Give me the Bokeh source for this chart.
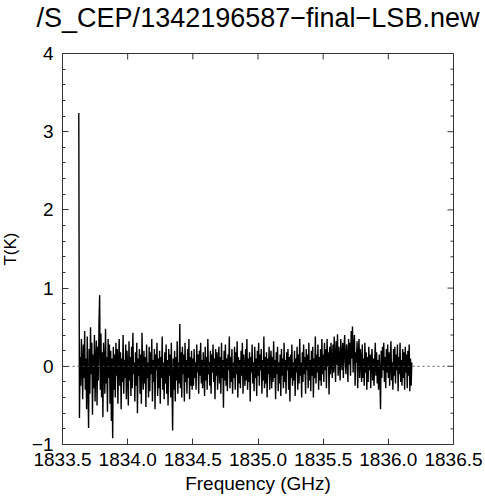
import numpy as np
from bokeh.plotting import figure
from bokeh.models import FixedTicker, Span, Range1d, ColumnDataSource
from bokeh.embed import file_html
from bokeh.resources import INLINE

title_text = "/S_CEP/1342196587\u2212final\u2212LSB.new"
x_label = "Frequency (GHz)"
y_label = "T(K)"

freq_start = 1833.625
freq_end = 1836.18

t_seg_a = [3.24, -0.66, 0.12, -0.25, 0.35, 0.05, -0.42, 0.28, -0.15, 0.45, -0.30, 0.10, -0.55, 0.38, -0.20,
           -0.79, 0.22, -0.35, 0.50, -0.10, 0.30, -0.62, 0.15, -0.28, 0.40, -0.45, 0.08, 0.33, -0.50, 0.25,
           -0.18, 0.55, 0.91, -0.30, 0.42, -0.40, 0.18, -0.65, 0.30, 0.05, -0.35, 0.48, -0.22, 0.12, -0.58,
           0.35, -0.15, 0.28, -0.48, 0.20, -0.70, 0.10, -0.92, 0.25, -0.30]
t_seg_b = [0.15, -0.40, 0.30, -0.12, 0.22, -0.48, 0.05, 0.35, -0.25, 0.18, -0.55, 0.10, -0.20, 0.40, -0.35, 0.08, -0.15, 0.28, -0.42, 0.20,
           -0.05, -0.50, 0.32, -0.18, 0.12, -0.38, 0.25, -0.28, 0.43, -0.10, 0.05, -0.45, 0.18, -0.25, 0.30, -0.60, 0.10, -0.12, 0.22, -0.35,
           0.15, -0.48, 0.43, -0.08, -0.30, 0.20, -0.22, 0.12, -0.52, 0.28, -0.15, 0.05, -0.40, 0.25, -0.32, 0.18, -0.10, 0.35, -0.45, 0.08,
           -0.20, 0.22, -0.55, 0.15, -0.05, 0.30, -0.38, 0.10, -0.28, 0.20, -0.48, 0.12, -0.15, 0.38, -0.30, 0.05, -0.42, 0.18, -0.22, 0.28,
           -0.35, 0.08, -0.50, 0.22, -0.12, 0.15, -0.40, 0.30, -0.25, -0.82, 0.10, -0.30, 0.20, -0.45, 0.12, -0.18, 0.32, -0.35, 0.05, -0.22,
           0.54, -0.28, 0.18, -0.40, 0.25, -0.10, 0.15, -0.45, 0.30, -0.20, 0.08, -0.35, 0.22, -0.15, 0.35, -0.42, 0.12, -0.25, 0.20, -0.30]
t_seg_c = [0.10, -0.25, 0.22, -0.15, 0.05, -0.30, 0.28, -0.08, 0.15, -0.35, 0.20, -0.12, 0.30, -0.22, 0.08, -0.28, 0.18, -0.05, -0.38, 0.25,
           -0.18, 0.12, -0.30, 0.35, -0.10, 0.05, -0.25, 0.20, -0.35, 0.15, -0.08, 0.28, -0.20, 0.10, -0.42, 0.22, -0.12, 0.18, -0.30, 0.05,
           0.25, -0.22, 0.12, -0.35, 0.30, -0.15, 0.08, -0.53, 0.20, -0.18, 0.28, -0.25, 0.10, -0.32, 0.15, -0.05, 0.38, -0.28, 0.12, -0.20,
           0.22, -0.35, 0.05, -0.15, 0.25, -0.30, 0.18, -0.10, 0.32, -0.40, 0.12, -0.22, 0.08, -0.28, 0.20, -0.12, 0.30, -0.35, 0.15, -0.05,
           -0.25, 0.22, -0.18, 0.35, -0.30, 0.10, -0.20, 0.18, -0.45, 0.12, -0.08, 0.28, -0.22, 0.05, -0.32, 0.25, -0.15, 0.10, -0.38, 0.20,
           -0.12, 0.30, -0.25, 0.15, -0.05, 0.22, -0.35, 0.08, -0.18, 0.38, -0.28, 0.12, -0.22, 0.18, -0.40, 0.10, -0.10, 0.25, -0.30, 0.05,
           0.20, -0.28, 0.12, -0.20, 0.32, -0.15, 0.08, -0.42, 0.18, -0.10, 0.25, -0.32, 0.05, -0.22, 0.15, -0.38, 0.22, -0.12, 0.10, -0.28,
           0.30, -0.20, 0.08, -0.35, 0.18, -0.05, 0.22, -0.30, 0.12, -0.45, 0.15, -0.15, 0.28, -0.25, 0.05, -0.18, 0.20, -0.38, 0.10, -0.08,
           0.25, -0.30, 0.15, -0.22, 0.35, -0.12, 0.05, -0.40, 0.18, -0.20, 0.28, -0.10, 0.12, -0.35, 0.22, -0.05, 0.15, -0.28, 0.30, -0.18,
           0.08, -0.32, 0.20, -0.12, 0.25, -0.40, 0.10, -0.15, 0.38, -0.22, 0.15, -0.08, 0.28, -0.30, 0.12, -0.18, 0.22, -0.25, 0.35, -0.10]
t_seg_d = [0.15, -0.20, 0.30, -0.05, 0.22, -0.28, 0.35, 0.00, 0.18, -0.36, 0.25, -0.10, 0.30, 0.05, -0.15, 0.28, -0.08, 0.38, 0.10, -0.20,
           0.32, 0.02, 0.41, -0.12, 0.25, 0.08, -0.18, 0.35, 0.12, -0.05, 0.30, -0.15, 0.22, 0.40, 0.05, -0.10, 0.28, 0.15, -0.20, 0.35,
           0.02, 0.30, -0.12, 0.45, 0.10, 0.51, -0.08, 0.25, 0.40, -0.25, 0.18, 0.05, 0.32, -0.28, 0.15, 0.35, -0.15, 0.22, 0.08, -0.20]
t_seg_e = [0.28, -0.15, 0.10, -0.25, 0.30, -0.08, 0.18, -0.30, 0.12, -0.20, 0.25, -0.05, 0.15, -0.28, 0.08, 0.22, -0.18, 0.10, -0.25, 0.05,
           0.30, -0.12, 0.18, -0.22, 0.08, -0.30, 0.15, -0.10, -0.55, 0.20, -0.15, 0.25, -0.05, 0.30, -0.20, 0.12, -0.28, 0.22, -0.08, 0.28,
           -0.15, 0.18, -0.25, 0.10, 0.32, -0.18, 0.05, -0.30, 0.22, -0.12, 0.25, -0.22, 0.15, -0.05, 0.28, -0.32, 0.12, -0.10, 0.30, -0.20,
           0.08, -0.25, 0.22, -0.15, 0.18, -0.30, 0.25, -0.08, 0.15, -0.28, 0.20, -0.12, 0.28, -0.32, 0.10, -0.25, 0.05]

x_lo, x_hi = 1833.5, 1836.5
y_lo, y_hi = -1, 4
x_ticks = [1833.5, 1834.0, 1834.5, 1835.0, 1835.5, 1836.0, 1836.5]
x_tick_labels = ["1833.5", "1834.0", "1834.5", "1835.0", "1835.5", "1836.0", "1836.5"]
y_ticks = [-1, 0, 1, 2, 3, 4]
y_tick_labels = ["\u22121", "0", "1", "2", "3", "4"]
y_minor = [-0.8, -0.6, -0.4, -0.2, 0.2, 0.4, 0.6, 0.8, 1.2, 1.4, 1.6, 1.8,
           2.2, 2.4, 2.6, 2.8, 3.2, 3.4, 3.6, 3.8]

temps = t_seg_a + t_seg_b + t_seg_c + t_seg_d + t_seg_e
freqs = np.linspace(freq_start, freq_end, len(temps))
src = ColumnDataSource(data=dict(f=freqs, t=temps))

FONT = "Liberation Sans"
AX = "#333333"

p = figure(width=489, height=520, output_backend="svg", toolbar_location=None,
           x_range=Range1d(x_lo, x_hi), y_range=Range1d(y_lo, y_hi),
           x_axis_label=x_label, y_axis_label=y_label,
           min_border_left=66, min_border_right=32, min_border_top=73, min_border_bottom=56)
p.margin = (-20, 0, 0, -4)
p.background_fill_color = "white"
p.border_fill_color = "white"
p.outline_line_color = AX
p.outline_line_width = 1
p.grid.visible = False

p.title.text = title_text
p.title.align = "center"
p.title.vertical_align = "top"
p.title.text_font = FONT
p.title.text_font_size = "27px"
p.title.text_font_style = "normal"
p.title.text_color = "black"
p.title.standoff = 38


def style(ax):
    ax.major_tick_in = 6
    ax.major_tick_out = 0
    ax.minor_tick_in = 3
    ax.minor_tick_out = 0
    ax.axis_line_color = AX
    ax.major_tick_line_color = AX
    ax.minor_tick_line_color = AX
    ax.major_label_text_font = FONT
    ax.major_label_text_font_size = "19px"
    ax.major_label_text_color = "black"
    ax.major_label_standoff = 8
    ax.axis_label_text_font = FONT
    ax.axis_label_text_font_style = "normal"
    ax.axis_label_text_color = "black"


xa = p.xaxis[0]
xa.ticker = FixedTicker(ticks=x_ticks, minor_ticks=[])
xa.major_label_overrides = {v: s for v, s in zip(x_ticks, x_tick_labels)}
style(xa)
xa.axis_label_text_font_size = "19px"
xa.axis_label_standoff = 4

ya = p.yaxis[0]
ya.ticker = FixedTicker(ticks=y_ticks, minor_ticks=y_minor)
ya.major_label_overrides = {v: s for v, s in zip(y_ticks, y_tick_labels)}
style(ya)
ya.major_label_standoff = 9
ya.axis_label_text_font_size = "17px"
ya.axis_label_standoff = 9

# inward ticks on the top and right edges of the box
p.ray(x=x_ticks, y=[y_hi] * len(x_ticks), length=6, length_units="screen",
      angle=-np.pi / 2, line_color=AX, line_width=1)
p.ray(x=[x_hi] * len(y_ticks), y=y_ticks, length=6, length_units="screen",
      angle=np.pi, line_color=AX, line_width=1)
p.ray(x=[x_hi] * len(y_minor), y=y_minor, length=3, length_units="screen",
      angle=np.pi, line_color=AX, line_width=1)

zero = Span(location=0, dimension="width", line_color="#555555", line_width=1, line_dash="2 3")
p.add_layout(zero)

p.line("f", "t", source=src, line_color="black", line_width=1.4)

open("out.html", "w").write(file_html(p, INLINE))
